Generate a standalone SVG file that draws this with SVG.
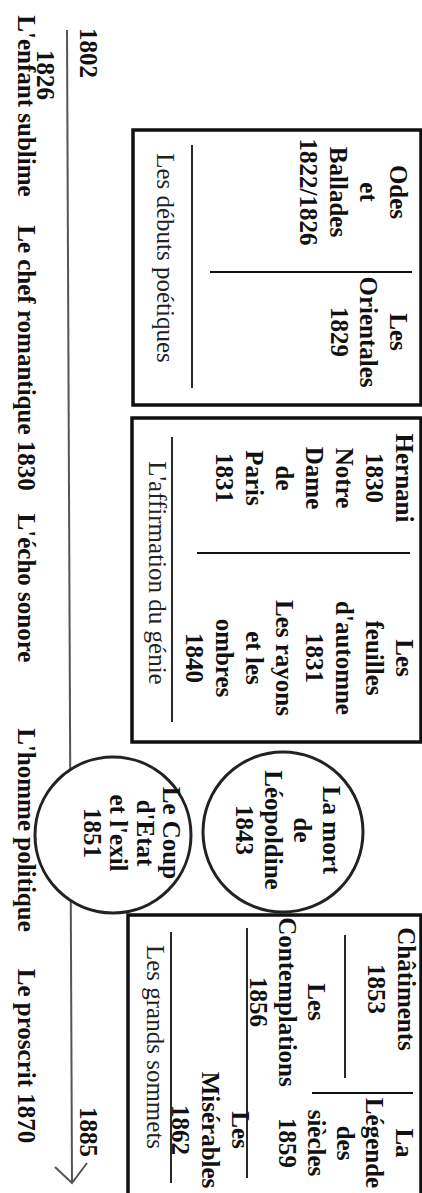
<svg xmlns="http://www.w3.org/2000/svg" width="422" height="1193" viewBox="0 0 422 1193">
<style>
.t{font-family:"Liberation Serif","Times New Roman",serif;font-size:25px;font-weight:bold;fill:#111;text-anchor:middle}
.c{font-family:"Liberation Serif","Times New Roman",serif;font-size:25px;font-weight:normal;fill:#222;text-anchor:middle}
.box{fill:none;stroke:#111;stroke-width:3.5}
.div{stroke:#111;stroke-width:1.8;fill:none}
.circ{fill:#fff;stroke:#222;stroke-width:3}
.tl{stroke:#555;stroke-width:2;fill:none}
</style>
<rect x="0" y="0" width="422" height="1193" fill="#fff"/>
<g transform="translate(422,0) rotate(90)">
  <g id="connectors">
    <line class="tl" x1="30" y1="355" x2="1183" y2="350"/>
    <polyline class="tl" points="1167,367 1183,350 1163,335"/>
  </g>
  <g id="timeline-labels">
    <text class="t" x="28" y="342" style="text-anchor:start">1802</text>
    <text class="t" x="75" y="385">1826</text>
    <text class="t" x="1132" y="342">1885</text>
    <text class="t" x="106" y="404">L'enfant sublime</text>
    <text class="t" x="358" y="404">Le chef romantique 1830</text>
    <text class="t" x="588" y="404">L'écho sonore</text>
    <text class="t" x="830" y="404">L'homme politique</text>
    <text class="t" x="1056" y="404">Le proscrit 1870</text>
  </g>
  <g id="box-debuts">
    <rect class="box" x="130" y="1" width="275" height="288"/>
    <line class="div" x1="272" y1="10" x2="272" y2="212"/>
    <line class="div" x1="145" y1="230" x2="388" y2="230"/>
    <text class="t"><tspan x="192" y="32">Odes</tspan><tspan x="192" y="62">et</tspan><tspan x="192" y="92">Ballades</tspan><tspan x="192" y="122">1822/1826</tspan></text>
    <text class="t"><tspan x="332" y="32">Les</tspan><tspan x="332" y="62">Orientales</tspan><tspan x="332" y="91">1829</tspan></text>
    <text class="c" x="258" y="265">Les débuts poétiques</text>
  </g>
  <g id="box-affirmation">
    <rect class="box" x="418" y="1" width="324" height="289"/>
    <line class="div" x1="553" y1="12" x2="553" y2="225"/>
    <line class="div" x1="437" y1="250" x2="722" y2="250"/>
    <text class="t"><tspan x="478" y="26">Hernani</tspan><tspan x="478" y="56">1830</tspan><tspan x="478" y="86">Notre</tspan><tspan x="478" y="116">Dame</tspan><tspan x="478" y="146">de</tspan><tspan x="478" y="176">Paris</tspan><tspan x="478" y="206">1831</tspan></text>
    <text class="t"><tspan x="658" y="26">Les</tspan><tspan x="658" y="56">feuilles</tspan><tspan x="658" y="86">d'automne</tspan><tspan x="658" y="116">1831</tspan><tspan x="658" y="146">Les rayons</tspan><tspan x="658" y="176">et les</tspan><tspan x="658" y="206">ombres</tspan><tspan x="658" y="236">1840</tspan></text>
    <text class="c" x="573" y="273">L'affirmation du génie</text>
  </g>
  <g id="circle-leopoldine">
    <circle class="circ" cx="832" cy="139" r="80"/>
    <text class="t"><tspan x="830" y="99">La mort</tspan><tspan x="830" y="128">de</tspan><tspan x="830" y="157">Léopoldine</tspan><tspan x="830" y="186">1843</tspan></text>
  </g>
  <g id="circle-coup">
    <circle class="circ" cx="835" cy="309" r="78"/>
    <text class="t"><tspan x="833" y="259">Le Coup</tspan><tspan x="833" y="285">d'Etat</tspan><tspan x="833" y="312">et l'exil</tspan><tspan x="833" y="338">1851</tspan></text>
  </g>
  <g id="box-sommets">
    <rect class="box" x="915" y="1" width="290" height="293"/>
    <line class="div" x1="935" y1="77" x2="1078" y2="77"/>
    <line class="div" x1="1093" y1="9" x2="1093" y2="110"/>
    <line class="div" x1="928" y1="175" x2="1178" y2="175"/>
    <line class="div" x1="932" y1="251" x2="1183" y2="251"/>
    <text class="t"><tspan x="989" y="24">Châtiments</tspan><tspan x="989" y="54">1853</tspan></text>
    <text class="t"><tspan x="1002" y="114">Les</tspan><tspan x="1002" y="143">Contemplations</tspan><tspan x="1002" y="172">1856</tspan></text>
    <text class="t"><tspan x="1143" y="26">La</tspan><tspan x="1143" y="56">Légende</tspan><tspan x="1143" y="85">des</tspan><tspan x="1143" y="114">siècles</tspan><tspan x="1143" y="143">1859</tspan></text>
    <text class="t"><tspan x="1130" y="190">Les</tspan><tspan x="1130" y="220">Misérables</tspan><tspan x="1130" y="250">1862</tspan></text>
    <text class="c" x="1047" y="275">Les grands sommets</text>
  </g>
</g>
</svg>
